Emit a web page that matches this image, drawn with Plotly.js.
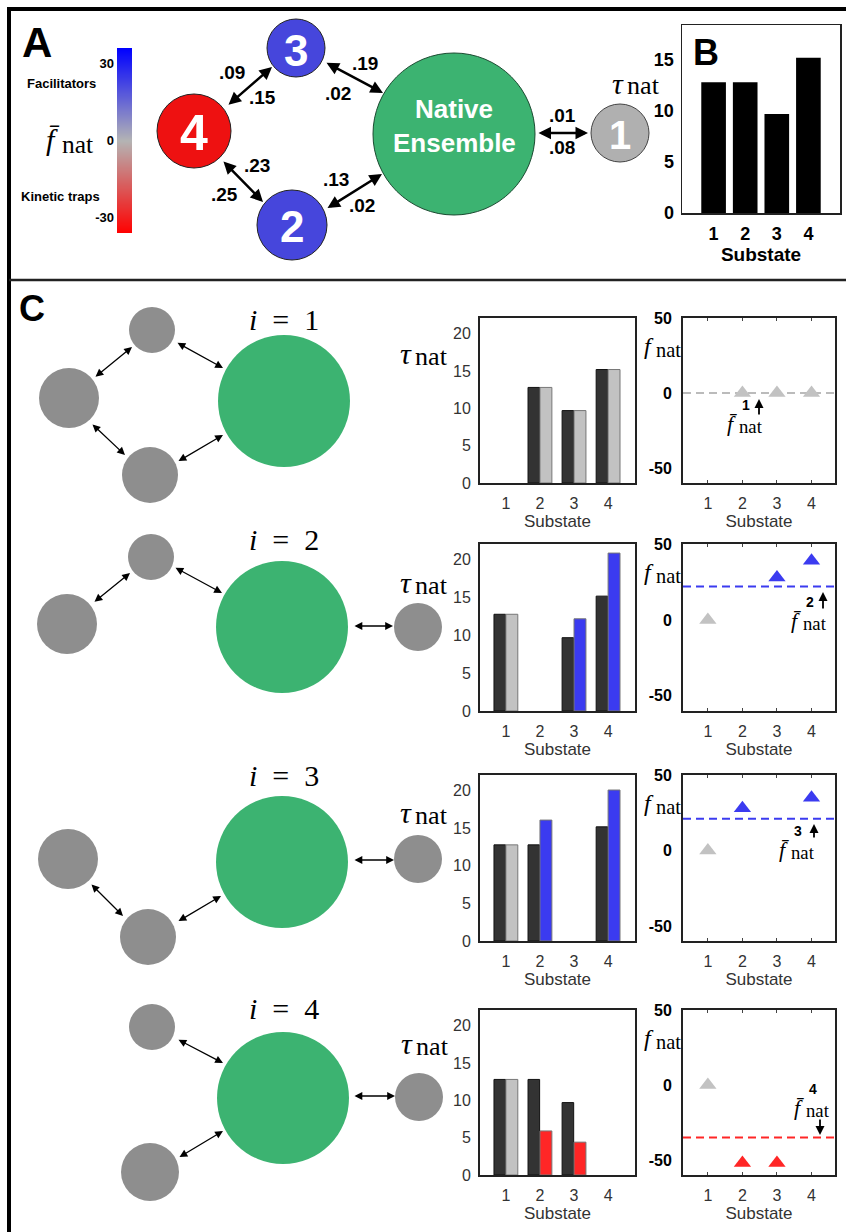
<!DOCTYPE html>
<html><head><meta charset="utf-8">
<script src="https://cdn.plot.ly/plotly-3.0.1.min.js"></script>
<style>html,body{margin:0;padding:0;background:#fff}</style>
</head><body><div id="chart" style="width:846px;height:1232px"></div>
<script>
// ---------------- data ----------------
const substates = [1, 2, 3, 4];
const tauNat = [12.8, 12.8, 9.7, 15.2];           // panel B and dark bars in C
const tauRemoved1 = [null, 12.8, 9.7, 15.2];
const tauRemoved2 = [12.8, null, 12.2, 20.9];
const tauRemoved3 = [12.8, 16.1, null, 20.1];
const tauRemoved4 = [12.8, 5.9, 4.4, null];
const fnat1 = [null, 0, 0, 0];
const fnat2 = [0, null, 28, 39];
const fnat3 = [0, 28, null, 35];
const fnat4 = [0, -52, -52, null];
const fnatMean = [0, 22, 21, -35];
const cbarTicks = [30, 0, -30];
const cbarRange = [-36, 36];
const rateLabels = ['.09', '.15', '.23', '.25', '.19', '.02', '.13', '.02', '.01', '.08'];
const nodeLabels = ['1', '2', '3', '4'];
const removedStates = [1, 2, 3, 4];

// ---------------- helpers ----------------
const W = 846, H = 1232;
const SANS = 'Liberation Sans, Arial, sans-serif';
const SERIF = 'Liberation Serif, Times New Roman, serif';
const px = x => x / W, py = y => 1 - y / H;
const traces = [], shapes = [], annotations = [];
const layout = {
  width: W, height: H, margin: {l: 0, r: 0, t: 0, b: 0}, showlegend: false,
  paper_bgcolor: '#fff', plot_bgcolor: '#fff', barmode: 'overlay',
  shapes: shapes, annotations: annotations
};
const BLUE = '#3b3bf0', RED = '#ff2626', LGREY = '#c2c2c2';
const signColor = v => v == null ? LGREY : (v > 0.5 ? BLUE : (v < -0.5 ? RED : LGREY));

function dom(x0, x1, y0, y1) { return {x: [px(x0), px(x1)], y: [py(y1), py(y0)]}; }
function axes(n, d, xc, yc) {
  const xs = n === 1 ? 'xaxis' : 'xaxis' + n, ys = n === 1 ? 'yaxis' : 'yaxis' + n;
  const base = {showgrid: false, zeroline: false, fixedrange: true, automargin: false};
  layout[xs] = Object.assign({}, base, {domain: d.x, anchor: n === 1 ? 'y' : 'y' + n}, xc);
  layout[ys] = Object.assign({}, base, {domain: d.y, anchor: n === 1 ? 'x' : 'x' + n}, yc);
}
function text(x, y, t, size, o) {
  o = o || {};
  annotations.push({xref: 'paper', yref: 'paper', x: px(x), y: py(y), text: t, showarrow: false,
    xanchor: o.xanchor || 'center', yanchor: o.yanchor || 'middle', borderpad: 0,
    font: {family: o.family || SANS, size: size, color: o.color || '#000', weight: o.weight || 'normal'}});
}
function arrow(x1, y1, x2, y2, w, sz, dbl) {
  annotations.push({xref: 'paper', yref: 'paper', x: px(x2), y: py(y2), ax: x1 - x2, ay: y1 - y2,
    axref: 'pixel', ayref: 'pixel', text: '', showarrow: true, arrowhead: 2, arrowsize: sz,
    arrowwidth: w, arrowcolor: '#000', arrowside: dbl ? 'end+start' : 'end', standoff: 0, startstandoff: 0});
}
function circle(cx, cy, r, fill, line) {
  shapes.push({type: 'circle', xref: 'paper', yref: 'paper', x0: px(cx - r), x1: px(cx + r),
    y0: py(cy + r), y1: py(cy - r), fillcolor: fill,
    line: line ? {color: line, width: 1} : {width: 0}});
}
function line(x0, y0, x1, y1, w, c) {
  shapes.push({type: 'line', xref: 'paper', yref: 'paper', x0: px(x0), y0: py(y0), x1: px(x1), y1: py(y1),
    line: {color: c, width: w}});
}
function tauLabel(x, y, s) {   // x = junction between tau and "nat"
  text(x + 1, y + 3, '<i>τ</i>', s, {family: SERIF, xanchor: 'right'});
  text(x + 2, y + s * 0.2, 'nat', s * 0.87, {family: SERIF, xanchor: 'left'});
}
function fLabel(x, y, s, bar) {
  text(x + 1, y + 1, bar ? '<i>f\u0304</i>' : '<i>f</i>', s, {family: SERIF, xanchor: 'right'});
  text(x + 1, y + s * 0.22, 'nat', s * 0.85, {family: SERIF, xanchor: 'left'});
}
const strTicks = v => v.map(String);

// ---------------- frame ----------------
line(9, 9, 846, 9, 4, '#000');
line(9, 7, 9, 1232, 4, '#000');
line(9, 280, 846, 280, 2.5, '#222');

// ---------------- panel A ----------------
text(37, 43, '<b>A</b>', 42);
// colour bar
traces.push({type: 'heatmap', x: [0, 1], y: cbarRange,
  z: [[cbarRange[0], cbarRange[0]], [cbarRange[1], cbarRange[1]]], zsmooth: 'best',
  zmin: cbarRange[0], zmax: cbarRange[1], showscale: false, hoverinfo: 'skip',
  colorscale: [[0, '#ff0000'], [0.5, '#b4b4b4'], [1, '#0000ff']], xaxis: 'x2', yaxis: 'y2'});
axes(2, dom(117, 132, 48, 233), {range: [0, 1], visible: false},
  {range: cbarRange, tickvals: cbarTicks, ticktext: strTicks(cbarTicks), ticks: '', showline: false, ticklabelstandoff: 2,
   tickfont: {family: SANS, size: 13, color: '#000', weight: 'bold'}});
text(62, 83, 'Facilitators', 13, {weight: 'bold'});
text(60, 197, 'Kinetic traps', 13, {weight: 'bold'});
fLabel(60, 138, 30, true);

// network A
const NE = [454, 134, 81];
circle(NE[0], NE[1], NE[2], '#3cb371', '#1a4a30');
circle(296, 48, 29, '#4646dc', '#222');
circle(194, 131, 37, '#ee1111', '#222');
circle(292, 225, 35, '#4646dc', '#222');
circle(620, 133, 29, '#b0b0b0', '#444');
text(296, 50, nodeLabels[2], 44, {color: '#fff', weight: 'bold'});
text(194, 133, nodeLabels[3], 50, {color: '#fff', weight: 'bold'});
text(292, 227, nodeLabels[1], 44, {color: '#fff', weight: 'bold'});
text(620, 135, nodeLabels[0], 40, {color: '#fff', weight: 'bold'});
text(NE[0], 109, 'Native', 26, {color: '#fff', weight: 'bold'});
text(NE[0], 143, 'Ensemble', 26, {color: '#fff', weight: 'bold'});
arrow(227, 106, 272, 67, 2.5, 1, true);
arrow(222, 160, 263, 202, 2.5, 1, true);
arrow(325, 62, 383, 93, 2.5, 1, true);
arrow(326, 209, 382, 174, 2.5, 1, true);
arrow(537, 133, 588, 133, 2.5, 1, true);
const ratePos = [[232, 73], [262, 97], [257, 166], [224, 195], [365, 63], [338, 93], [336, 180], [362, 206], [562, 116], [562, 148]];
rateLabels.forEach((t, j) => text(ratePos[j][0], ratePos[j][1], t, 19, {weight: 'bold'}));
tauLabel(624, 80, 30);

// ---------------- panel B ----------------
traces.push({type: 'bar', x: substates, y: tauNat, width: 0.78, marker: {color: '#000', line: {width: 0}},
  xaxis: 'x', yaxis: 'y', hoverinfo: 'skip'});
axes(1, dom(682, 840, 25, 213),
  {range: [0, 5], tickvals: substates, ticks: '', showline: true, mirror: true, linecolor: '#222', linewidth: 1.5,
   ticklabelstandoff: 4, tickfont: {family: SANS, size: 18, color: '#000', weight: 'bold'},
   title: {text: 'Substate', standoff: 2, font: {family: SANS, size: 19, color: '#000', weight: 'bold'}}},
  {range: [0, 18.4], tickvals: [0, 5, 10, 15], ticks: '', showline: true, mirror: true, linecolor: '#222', linewidth: 1.5,
   ticklabelstandoff: 3, tickfont: {family: SANS, size: 18, color: '#000', weight: 'bold'}});
text(706, 52, '<b>B</b>', 36);

// ---------------- panel C ----------------
text(32, 308, '<b>C</b>', 36);
const tauRemoved = [tauRemoved1, tauRemoved2, tauRemoved3, tauRemoved4];
const fnatRows = [fnat1, fnat2, fnat3, fnat4];
const rowsY = [[318, 483], [544, 711], [775, 941], [1010, 1175]];
const barX = [480, 635], fX = [683, 835];
const tickFontC = {family: SANS, size: 16, color: '#333'};
const titleC = {text: 'Substate', standoff: 1, font: {family: SANS, size: 17, color: '#333'}};
const fTicks = [-50, 0, 50];

rowsY.forEach((ry, k) => {
  const nb = 3 + 2 * k, nf = 4 + 2 * k;
  const removed = removedStates[k];
  const dark = tauNat.map((v, j) => substates[j] === removed ? null : v);
  traces.push({type: 'bar', x: substates, y: dark, offset: -0.35, width: 0.34,
    marker: {color: '#333', line: {color: '#111', width: 1}}, xaxis: 'x' + nb, yaxis: 'y' + nb, hoverinfo: 'skip'});
  traces.push({type: 'bar', x: substates, y: tauRemoved[k], offset: 0.0, width: 0.35,
    marker: {color: fnatRows[k].map(signColor), line: {color: '#777', width: 1}},
    xaxis: 'x' + nb, yaxis: 'y' + nb, hoverinfo: 'skip'});
  axes(nb, dom(barX[0], barX[1], ry[0], ry[1]),
    {range: [0.24, 4.79], tickvals: substates, ticks: '', showline: true, mirror: true, linecolor: '#222', linewidth: 2,
     ticklabelstandoff: 5, tickfont: tickFontC, title: titleC},
    {range: [0, 22.1], tickvals: [0, 5, 10, 15, 20], ticks: '', showline: true, mirror: true, linecolor: '#222', linewidth: 2,
     ticklabelstandoff: 4, tickfont: tickFontC});

  traces.push({type: 'scatter', mode: 'markers', x: substates, y: fnatRows[k],
    marker: {symbol: 'triangle-up', size: 15, color: fnatRows[k].map(signColor)},
    xaxis: 'x' + nf, yaxis: 'y' + nf, hoverinfo: 'skip', cliponaxis: false});
  shapes.push({type: 'line', xref: 'x' + nf + ' domain', x0: 0, x1: 1, yref: 'y' + nf, y0: fnatMean[k], y1: fnatMean[k],
    line: {color: signColor(fnatMean[k]) === LGREY ? '#bbbbbb' : signColor(fnatMean[k]), width: 2, dash: '8px,5px'}, layer: 'below'});
  axes(nf, dom(fX[0], fX[1], ry[0], ry[1]),
    {range: [0.28, 4.68], tickvals: substates, ticks: 'inside', ticklen: 3, tickcolor: '#444', showline: true, mirror: 'ticks',
     linecolor: '#222', linewidth: 2, ticklabelstandoff: 5, tickfont: tickFontC, title: titleC},
    {range: [-60, 50], tickvals: fTicks, ticktext: strTicks(fTicks), ticks: '', showline: true, mirror: true, linecolor: '#222', linewidth: 2,
     ticklabelstandoff: 6, tickfont: {family: SANS, size: 16, color: '#000', weight: 'bold'}});
  fLabel(654, ry[0] + 27, 24, false);
});

// f-bar annotations
function fbarNote(x, y, sup, ax, ay0, ay1) {
  fLabel(x, y, 22, true);
  text(x + 9, y - 17, sup, 14, {weight: 'bold'});
  arrow(ax, ay0, ax, ay1, 1.8, 1, false);
}
fbarNote(737, 422, '1', 759, 416, 399);
fbarNote(801, 619, '2', 823, 610, 592);
fbarNote(789, 848, '3', 814, 839, 824);
fbarNote(804, 1106, '4', 820, 1118, 1135);

// tau labels in C
tauLabel(412, 350, 30);
tauLabel(412, 579, 30);
tauLabel(412, 809, 30);
tauLabel(413, 1040, 30);

// network diagrams in C
const GREY = '#8e8e8e', GREEN = '#3cb371';
function iLabel(y, k) { text(284, y, '<i>i</i>\u2002=\u2002' + k, 30, {family: SERIF}); }
// row 1
iLabel(320, 1);
circle(284, 401, 66, GREEN); circle(152, 330, 23, GREY); circle(69, 398, 30, GREY); circle(150, 475, 28, GREY);
arrow(94, 378, 132, 347, 1.3, 1.2, true); arrow(176, 342, 223, 368, 1.3, 1.2, true);
arrow(91, 423, 125, 455, 1.3, 1.2, true); arrow(177, 462, 223, 435, 1.3, 1.2, true);
// row 2
iLabel(539, 2);
circle(282, 627, 66, GREEN); circle(151, 557, 23, GREY); circle(67, 624, 30, GREY); circle(418, 627, 24, GREY);
arrow(93, 603, 130, 573, 1.3, 1.2, true); arrow(174, 567, 222, 593, 1.3, 1.2, true);
arrow(353, 626, 393, 626, 1.3, 1.2, true);
// row 3
iLabel(775, 3);
circle(282, 862, 66, GREEN); circle(68, 859, 30, GREY); circle(148, 937, 28, GREY); circle(418, 859, 24, GREY);
arrow(90, 883, 123, 916, 1.3, 1.2, true); arrow(177, 922, 221, 896, 1.3, 1.2, true);
arrow(353, 860, 394, 860, 1.3, 1.2, true);
// row 4
iLabel(1009, 4);
circle(283, 1098, 66, GREEN); circle(152, 1027, 23, GREY); circle(150, 1172, 29, GREY); circle(419, 1097, 24, GREY);
arrow(177, 1039, 223, 1063, 1.3, 1.2, true); arrow(178, 1158, 223, 1131, 1.3, 1.2, true);
arrow(353, 1096, 395, 1096, 1.3, 1.2, true);

Plotly.newPlot('chart', traces, layout, {staticPlot: true, displayModeBar: false});
</script>
</body></html>
